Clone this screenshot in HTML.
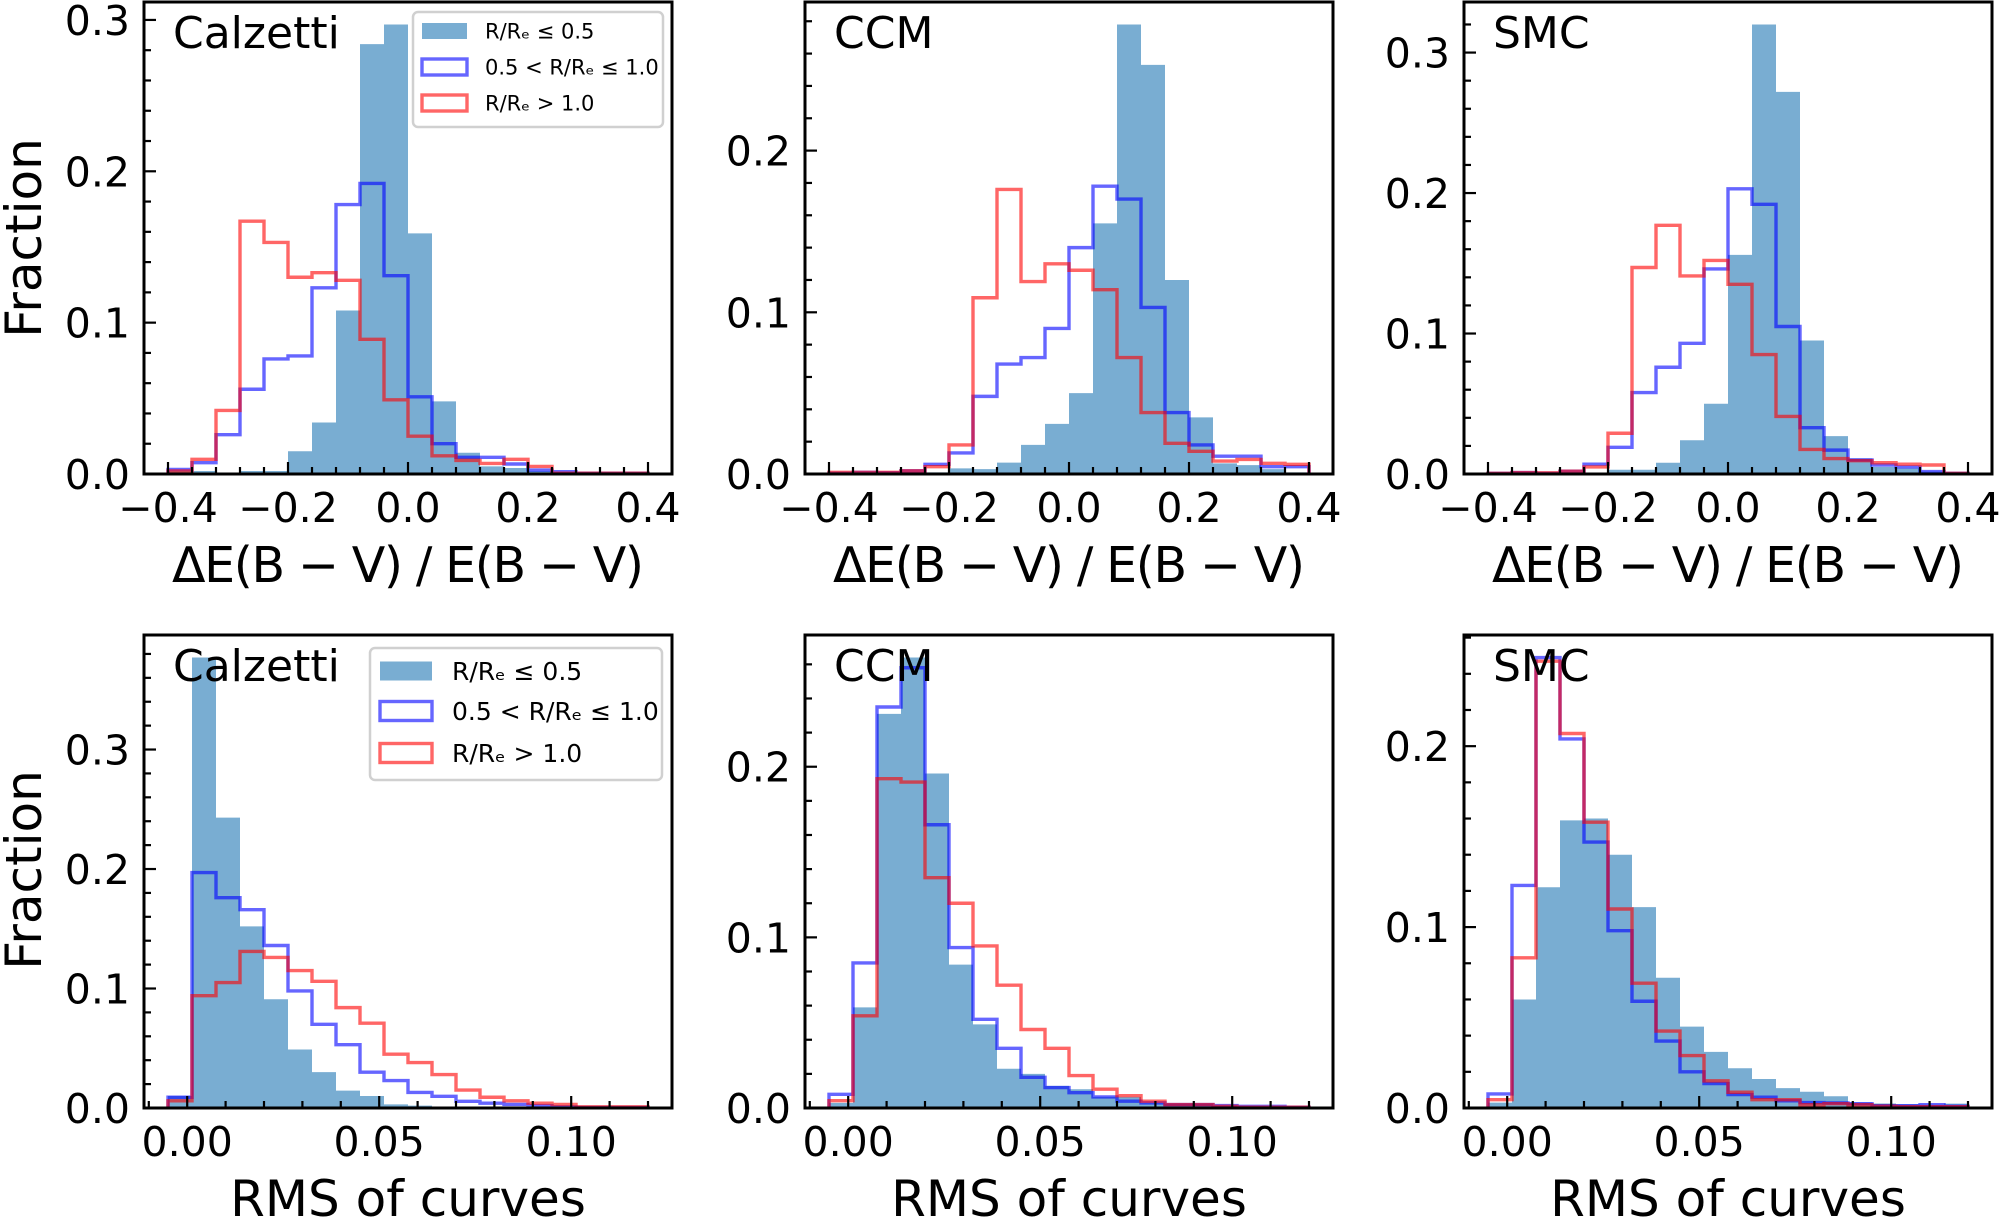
<!DOCTYPE html>
<html><head><meta charset="utf-8">
<style>
html,body{margin:0;padding:0;background:#fff;}
svg{display:block;font-family:"DejaVu Sans","Liberation Sans",sans-serif;}
</style></head>
<body>
<svg id="fig" width="2000" height="1218" viewBox="0 0 2000 1218" xmlns="http://www.w3.org/2000/svg"></svg>
<script>
// ---- data (fractions per bin, 20 bins each) ----
const topBinStart = -0.4;
const topBinWidth = 0.04;
const botBinStart = -0.005;
const botBinWidth = 0.00625;
const topXTicks = [-0.4, -0.2, 0.0, 0.2, 0.4];
const topXTickLabels = ["\u22120.4", "\u22120.2", "0.0", "0.2", "0.4"];
const botXTicks = [0.0, 0.05, 0.10];
const botXTickLabels = ["0.00", "0.05", "0.10"];
const panelTitles = ["Calzetti", "CCM", "SMC", "Calzetti", "CCM", "SMC"];
const legendLabels = ["R/R\u2091 \u2264 0.5", "0.5 < R/R\u2091 \u2264 1.0", "R/R\u2091 > 1.0"];

const calzTopInner = [0.002,0.002,0.001,0.002,0.002,0.015,0.034,0.108,0.284,0.297,0.159,0.048,0.014,0.005,0.004,0.002,0.001,0,0,0];
const calzTopMid   = [0.003,0.0075,0.026,0.056,0.076,0.078,0.123,0.178,0.192,0.131,0.051,0.020,0.011,0.011,0.0066,0.0026,0.0015,0.0005,0.0005,0.0005];
const calzTopOuter = [0.002,0.0097,0.042,0.167,0.153,0.130,0.133,0.128,0.089,0.049,0.025,0.012,0.009,0.007,0.0097,0.005,0.0005,0.0005,0.0005,0.0005];

const ccmTopInner = [0,0,0,0.001,0.001,0.0035,0.003,0.007,0.018,0.031,0.050,0.155,0.278,0.253,0.120,0.035,0.0066,0.0055,0.003,0.001];
const ccmTopMid   = [0.0005,0.001,0.0008,0.002,0.006,0.013,0.048,0.068,0.072,0.090,0.140,0.178,0.170,0.103,0.038,0.018,0.011,0.011,0.0045,0.0045];
const ccmTopOuter = [0.001,0.001,0.001,0.002,0.0045,0.018,0.109,0.176,0.119,0.130,0.126,0.114,0.072,0.038,0.019,0.014,0.008,0.009,0.0066,0.006];

const smcTopInner = [0,0,0,0.001,0.001,0.003,0.003,0.008,0.024,0.050,0.156,0.320,0.272,0.095,0.027,0.011,0.005,0.004,0.0017,0.0005];
const smcTopMid   = [0.0005,0.001,0.0005,0.002,0.007,0.019,0.058,0.076,0.093,0.146,0.203,0.192,0.105,0.033,0.017,0.010,0.0064,0.005,0.0017,0.0005];
const smcTopOuter = [0.0005,0.001,0.0008,0.002,0.005,0.029,0.147,0.177,0.141,0.152,0.135,0.085,0.041,0.0175,0.011,0.0095,0.008,0.007,0.0064,0.0005];

const calzBotInner = [0.010,0.377,0.243,0.152,0.091,0.049,0.030,0.0145,0.010,0.003,0.002,0.001,0.001,0.0003,0.0003,0.0003,0.0003,0.0003,0.0003,0.0003];
const calzBotMid   = [0.009,0.197,0.176,0.166,0.136,0.098,0.070,0.053,0.030,0.023,0.013,0.0098,0.0056,0.004,0.003,0.002,0.001,0.0005,0.0005,0.0005];
const calzBotOuter = [0.006,0.094,0.105,0.131,0.126,0.115,0.106,0.084,0.071,0.045,0.038,0.028,0.015,0.009,0.006,0.004,0.003,0.001,0.001,0.001];

const ccmBotInner = [0.003,0.059,0.231,0.264,0.196,0.084,0.049,0.023,0.020,0.013,0.011,0.0065,0.0065,0.003,0.0025,0.0025,0.0014,0.001,0.001,0.001];
const ccmBotMid   = [0.008,0.085,0.235,0.258,0.166,0.094,0.052,0.035,0.018,0.012,0.009,0.0065,0.004,0.003,0.002,0.002,0.0014,0.001,0.001,0.0005];
const ccmBotOuter = [0.0043,0.054,0.193,0.191,0.135,0.120,0.095,0.072,0.046,0.035,0.019,0.011,0.0072,0.004,0.002,0.002,0.001,0.0005,0.0005,0.0005];

const smcBotInner = [0.003,0.060,0.122,0.159,0.160,0.140,0.111,0.072,0.045,0.031,0.022,0.016,0.011,0.009,0.0065,0.003,0.0025,0.002,0.0018,0.0024];
const smcBotMid   = [0.0078,0.123,0.249,0.204,0.147,0.098,0.059,0.037,0.020,0.0135,0.0074,0.006,0.004,0.003,0.0028,0.0024,0.0013,0.0013,0.0018,0.001];
const smcBotOuter = [0.0046,0.083,0.247,0.207,0.158,0.110,0.069,0.0425,0.029,0.015,0.0087,0.0046,0.0046,0.0018,0.0024,0.0018,0.001,0.0007,0.0007,0.0007];

const NS = "http://www.w3.org/2000/svg";
const fig = document.getElementById('fig');
function mk(tag, attrs, parent){
  const e = document.createElementNS(NS, tag);
  for (const k in attrs) e.setAttribute(k, attrs[k]);
  (parent||fig).appendChild(e);
  return e;
}

function drawPanel(idx, L, T, W, H, binStart, binWidth, inner, mid, outer, xTicks, xTickLabels, xMinorStep, yMajorStep, legend){
  const nb = inner.length;
  const xmin0 = binStart, xmax0 = binStart + nb*binWidth;
  const pad = (xmax0 - xmin0)*0.05;
  const xmin = xmin0 - pad, xmax = xmax0 + pad;
  const ymax = 1.05*Math.max(...inner, ...mid, ...outer);
  const sx = v => L + (v - xmin)/(xmax - xmin)*W;
  const sy = v => T + H - v/ymax*H;
  const g = mk('g', {});
  
  

  let d = '';
  for (let i=0;i<nb;i++){
    const x0 = sx(binStart + i*binWidth), x1 = sx(binStart + (i+1)*binWidth);
    const y = sy(inner[i]);
    d += `M${x0},${sy(0)}L${x0},${y}L${x1},${y}L${x1},${sy(0)}Z`;
  }
  const bars = mk('path', {d:d, fill:'#1f77b4', 'fill-opacity':0.6}, g);
  
  

  function step(vals, color, name){
    let p = `M${sx(binStart)},${sy(0)}`;
    for (let i=0;i<nb;i++){
      p += `L${sx(binStart+i*binWidth)},${sy(vals[i])}L${sx(binStart+(i+1)*binWidth)},${sy(vals[i])}`;
    }
    p += `L${sx(binStart+nb*binWidth)},${sy(0)}`;
    const s = mk('path', {d:p, fill:'none', stroke:color, 'stroke-opacity':0.6, 'stroke-width':3.4, 'stroke-linejoin':'miter'}, g);
    
    
  }
  step(mid, '#0000ff', 'mid-hist-step');
  step(outer, '#ff0000', 'outer-hist-step');

  const tg = mk('g', {stroke:'#000', 'stroke-width':2.2}, g);
  
  
  const firstMinor = Math.ceil((xmin)/xMinorStep - 1e-9);
  for (let k=firstMinor; k*xMinorStep <= xmax+1e-12; k++){
    const v = k*xMinorStep;
    const isMajor = xTicks.some(t => Math.abs(t - v) < xMinorStep*0.1);
    mk('line', {x1:sx(v), x2:sx(v), y1:T+H, y2:T+H-(isMajor?12:7)}, tg);
  }
  const yMinor = yMajorStep/5;
  for (let k=0; k*yMinor <= ymax+1e-12; k++){
    const v = k*yMinor;
    const isMajor = k%5===0;
    mk('line', {x1:L, x2:L+(isMajor?12:7), y1:sy(v), y2:sy(v)}, tg);
  }
  for (let k=0; k*yMajorStep <= ymax+1e-12; k++){
    const v = k*yMajorStep;
    const t = mk('text', {x:L-14, y:sy(v)+15, 'text-anchor':'end', 'font-size':41, fill:'#000'}, g);
    t.textContent = v.toFixed(1);
    
    
  }
  for (let i=0;i<xTicks.length;i++){
    const t = mk('text', {x:sx(xTicks[i]), y:T+H+48, 'text-anchor':'middle', 'font-size':41, fill:'#000'}, g);
    t.textContent = xTickLabels[i];
    
    
  }
  const fr = mk('rect', {x:L, y:T, width:W, height:H, fill:'none', stroke:'#000', 'stroke-width':3}, g);
  
  
  const tt = mk('text', {x:L+29, y:T+46, 'font-size':44, fill:'#000'}, g);
  tt.textContent = panelTitles[idx];
  
  

  if (legend){
    const lg = mk('g', {}, g);
    
    
    mk('rect', {x:legend.x, y:legend.y, width:legend.w, height:legend.h, rx:5, fill:'#fff', 'fill-opacity':0.8, stroke:'#d0d0d0', 'stroke-width':2.5}, lg);
    const styles = [
      {fill:'#1f77b4','fill-opacity':0.6, stroke:'none'},
      {fill:'none', stroke:'#0000ff','stroke-opacity':0.6,'stroke-width':3.4},
      {fill:'none', stroke:'#ff0000','stroke-opacity':0.6,'stroke-width':3.4}
    ];
    for (let i=0;i<3;i++){
      const cy = legend.rows[i];
      const ent = mk('g', {}, lg);
      
      
      mk('rect', Object.assign({x:legend.px, y:cy-legend.ph/2, width:legend.pw, height:legend.ph}, styles[i]), ent);
      const tx = mk('text', {x:legend.tx, y:cy+legend.fs*0.36, 'font-size':legend.fs, fill:'#000'}, ent);
      tx.textContent = legendLabels[i];
    }
  }
}

const W = 528;
const cols = [144, 805, 1464];
const topT = 2, topH = 472, botT = 635, botH = 473;

drawPanel(0, cols[0], topT, W, topH, topBinStart, topBinWidth, calzTopInner, calzTopMid, calzTopOuter, topXTicks, topXTickLabels, 0.04, 0.1,
  {x:413, y:12, w:250, h:115, px:422, pw:45, ph:16, tx:485, fs:21, rows:[31,67,103]});
drawPanel(1, cols[1], topT, W, topH, topBinStart, topBinWidth, ccmTopInner, ccmTopMid, ccmTopOuter, topXTicks, topXTickLabels, 0.04, 0.1, null);
drawPanel(2, cols[2], topT, W, topH, topBinStart, topBinWidth, smcTopInner, smcTopMid, smcTopOuter, topXTicks, topXTickLabels, 0.04, 0.1, null);
drawPanel(3, cols[0], botT, W, botH, botBinStart, botBinWidth, calzBotInner, calzBotMid, calzBotOuter, botXTicks, botXTickLabels, 0.01, 0.1,
  {x:370, y:648, w:292, h:132, px:380, pw:52, ph:19, tx:452, fs:25, rows:[671,711,753]});
drawPanel(4, cols[1], botT, W, botH, botBinStart, botBinWidth, ccmBotInner, ccmBotMid, ccmBotOuter, botXTicks, botXTickLabels, 0.01, 0.1, null);
drawPanel(5, cols[2], botT, W, botH, botBinStart, botBinWidth, smcBotInner, smcBotMid, smcBotOuter, botXTicks, botXTickLabels, 0.01, 0.1, null);

for (let c=0;c<3;c++){
  const t1 = mk('text', {x:cols[c]+W/2, y:582, 'text-anchor':'middle', 'font-size':49, fill:'#000', textLength:472, lengthAdjust:'spacing'});
  t1.textContent = '\u0394E(B \u2212 V) / E(B \u2212 V)';
  
  
  const t2 = mk('text', {x:cols[c]+W/2, y:1216, 'text-anchor':'middle', 'font-size':50, fill:'#000'});
  t2.textContent = 'RMS of curves';
  
  
}
[238, 870].forEach(cy => {
  const t = mk('text', {x:0, y:0, 'text-anchor':'middle', 'font-size':50, fill:'#000', transform:`translate(41,${cy}) rotate(-90)`});
  t.textContent = 'Fraction';
  
  
});
</script>
</body></html>
